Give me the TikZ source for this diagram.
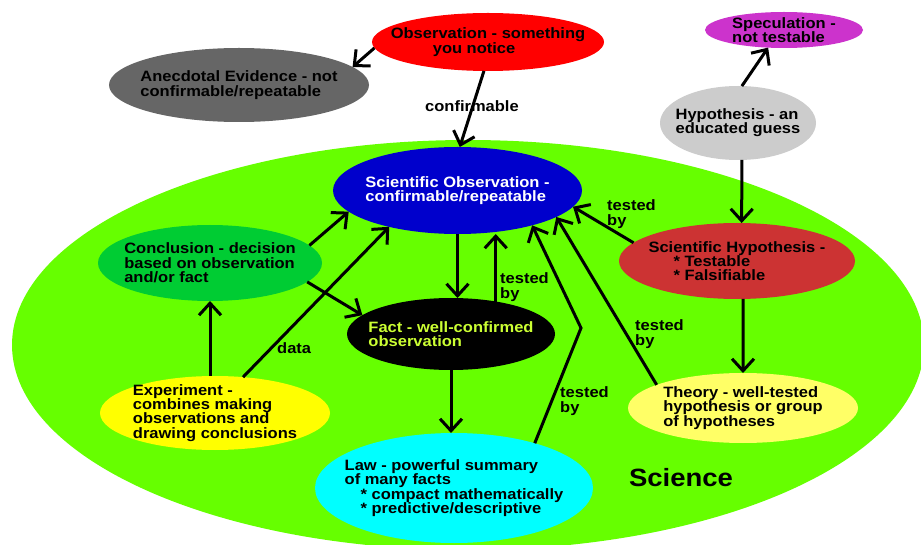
\documentclass[tikz,border=0pt]{standalone}
\usepackage{fontspec}
\setmainfont{Liberation Sans}[FakeStretch=1.1]
\usetikzlibrary{arrows.meta, shapes.geometric}

\definecolor{sciencegreen}{HTML}{66FF00}
\definecolor{obsred}{HTML}{FF0000}
\definecolor{anecgray}{HTML}{666666}
\definecolor{specpink}{HTML}{CC33CC}
\definecolor{hypgray}{HTML}{CCCCCC}
\definecolor{sciblue}{HTML}{0000CC}
\definecolor{hypred}{HTML}{CC3333}
\definecolor{concgreen}{HTML}{00CC33}
\definecolor{factlime}{HTML}{CCFF33}
\definecolor{expyellow}{HTML}{FFFF00}
\definecolor{lawcyan}{HTML}{00FFFF}
\definecolor{theoryyellow}{HTML}{FFFF66}

\begin{document}
\begin{tikzpicture}[
  x=1pt, y=-1pt,
  blob/.style={ellipse, inner sep=-40pt, outer sep=0pt, align=left,
    font=\bfseries\fontsize{15}{14.3}\selectfont},
  arrow/.style={-{Straight Barb[length=12pt, width=22pt]}, line width=3pt},
  note/.style={anchor=west, align=left, inner sep=0pt,
    font=\bfseries\fontsize{15}{14.3}\selectfont}
]
  \path[use as bounding box, fill=white] (0,0) rectangle (921,545);
  \clip (0,0) rectangle (921,545);

  % the science region
  \fill[sciencegreen] (468,345) ellipse [x radius=456pt, y radius=205pt];
  \node[font=\bfseries\fontsize{25}{25}\selectfont, inner sep=0pt] (science) at (681,478) {Science};

  \node[blob, fill=obsred, minimum width=232pt, minimum height=58pt] (observation) at (488,42)
    {Observation - something\\ \hspace*{42pt}you notice};
  \node[blob, fill=anecgray, minimum width=260pt, minimum height=74pt] (anecdote) at (239,85)
    {Anecdotal Evidence - not\\confirmable/repeatable};
  \node[blob, fill=specpink, minimum width=158pt, minimum height=36pt] (speculation) at (784,30)
    {Speculation -\\not testable};
  \node[blob, fill=hypgray, minimum width=156pt, minimum height=74pt] (hypothesis) at (738,123)
    {Hypothesis - an\\educated guess};
  \node[blob, fill=sciblue, text=white, minimum width=249pt, minimum height=87pt] (sciobs) at (457.5,190.5)
    {Scientific Observation -\\confirmable/repeatable};
  \node[blob, fill=hypred, minimum width=236pt, minimum height=76pt] (scihyp) at (737,261)
    {Scientific Hypothesis -\\\hspace*{25pt}* Testable\\\hspace*{25pt}* Falsifiable};
  \node[blob, fill=concgreen, minimum width=224pt, minimum height=76pt] (conclusion) at (210,263)
    {Conclusion - decision\\based on observation\\and/or fact};
  \node[blob, fill=black, text=factlime, minimum width=208pt, minimum height=72pt] (fact) at (451,334)
    {Fact - well-confirmed\\observation};
  \node[blob, fill=expyellow, minimum width=230pt, minimum height=74pt] (experiment) at (215,413)
    {Experiment -\\combines making\\observations and\\drawing conclusions};
  \node[blob, fill=lawcyan, minimum width=278pt, minimum height=110pt] (law) at (454,488)
    {Law - powerful summary\\of many facts\\\hspace*{16pt}* compact mathematically\\\hspace*{16pt}* predictive/descriptive};
  \node[blob, fill=theoryyellow, minimum width=230pt, minimum height=70pt] (theory) at (743,408)
    {Theory - well-tested\\hypothesis or group\\of hypotheses};

  \coordinate (bend) at (581,328);

  \draw[arrow] (observation.183) -- (anecdote.9);
  \draw[arrow] (observation.262) -- (sciobs.87);
  \draw[arrow] (hypothesis.84) -- (speculation.228);
  \draw[arrow] (hypothesis.-84) -- (scihyp.83);
  \draw[arrow] (scihyp.170) -- (sciobs.-8);
  \draw[arrow] (scihyp.-81) -- (theory.north);
  \draw[arrow] (theory.165) -- (sciobs.-15);
  \draw[arrow] (law.29) -- (bend) -- (sciobs.-25);
  \draw[arrow] (fact.36) -- (fact.36 |- sciobs.south);
  \draw[arrow] (sciobs.south) -- (sciobs.south |- fact.north);
  \draw[arrow] (fact.south) -- (fact.south |- law.north);
  \draw[arrow] (conclusion.10) -- (sciobs.191);
  \draw[arrow] (conclusion.-11) -- (fact.168);
  \draw[arrow] (experiment.north -| conclusion.south) -- (conclusion.south);
  \draw[arrow] (experiment.52) -- (sciobs.208);

  \node[note] (confirmable) at (425,106) {confirmable};
  \node[note] (tested1) at (607,214) {tested\\by};
  \node[note] (tested2) at (500,287) {tested\\by};
  \node[note] (tested3) at (635,334) {tested\\by};
  \node[note] (tested4) at (560,401) {tested\\by};
  \node[note] (data) at (277,348) {data};
\end{tikzpicture}
\end{document}
